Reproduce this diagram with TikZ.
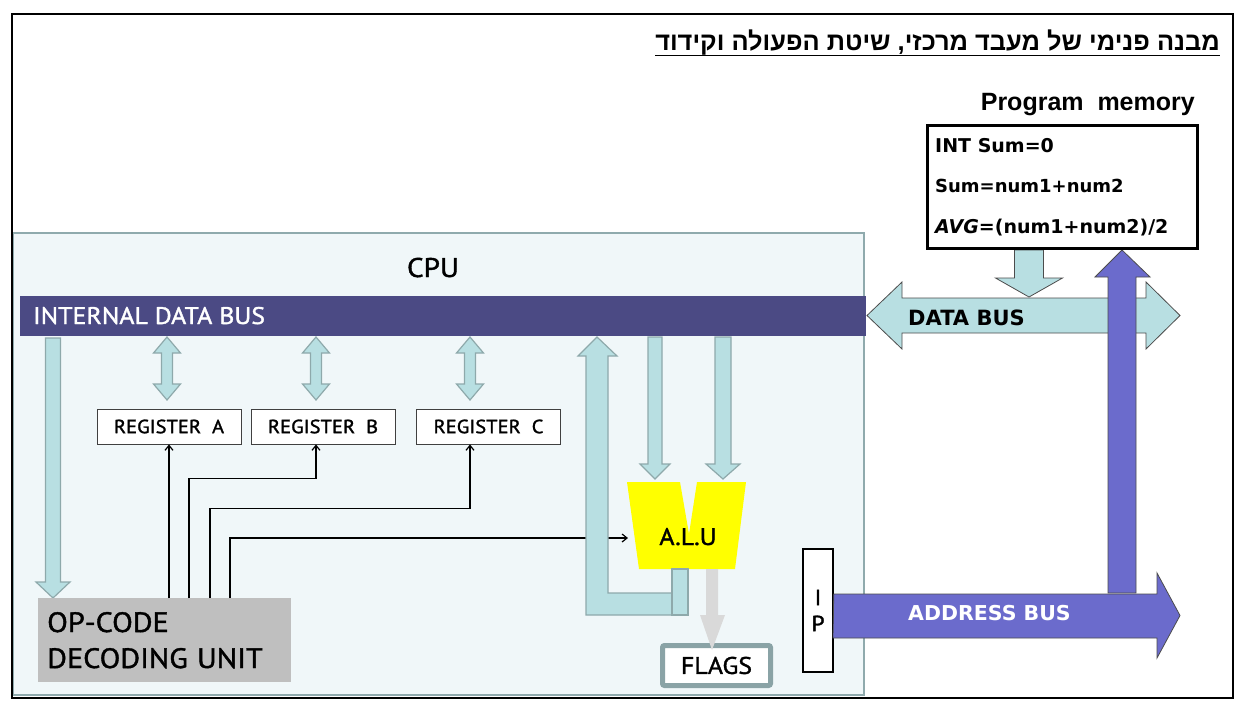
\documentclass[tikz,border=0pt]{standalone}
\usepackage{fontspec}
\usetikzlibrary{arrows.meta}
\TeXXeTstate=1
\newfontfamily\dinfont[FakeStretch=1.08,FakeBold=1.4]{PT Sans}
\newfontfamily\comicfont{DejaVu Sans}
\newfontfamily\arialfont{Liberation Sans}
\newfontfamily\hebfont[Script=Hebrew]{Liberation Sans}
\definecolor{cpufill}{HTML}{F0F7F9}
\definecolor{cpuline}{HTML}{8FAAAD}
\definecolor{tealfill}{HTML}{B8DFE2}
\definecolor{tealline}{HTML}{8EA9AB}
\definecolor{busdark}{HTML}{4B4A84}
\definecolor{purp}{HTML}{6B6BCC}
\definecolor{aluyellow}{HTML}{FFFF00}
\definecolor{opgrey}{HTML}{BFBFBF}
\definecolor{flagline}{HTML}{8AA3A6}
\definecolor{flagarrow}{HTML}{D9D9D9}
% double vertical block arrow: cx, ytop, ybot, shaft half, head half, head length
\newcommand{\dblarrowv}[6]{\path[tealarrow] (#1,#2) -- ({#1+#5},{#2+#6}) -- ({#1+#4},{#2+#6}) -- ({#1+#4},{#3-#6}) -- ({#1+#5},{#3-#6}) -- (#1,#3) -- ({#1-#5},{#3-#6}) -- ({#1-#4},{#3-#6}) -- ({#1-#4},{#2+#6}) -- ({#1-#5},{#2+#6}) -- cycle;}
% single downward block arrow: cx, ytop, ytip, shaft half, head half, head length, style
\newcommand{\sglarrowv}[7]{\path[#7] ({#1-#4},#2) -- ({#1+#4},#2) -- ({#1+#4},{#3-#6}) -- ({#1+#5},{#3-#6}) -- (#1,#3) -- ({#1-#5},{#3-#6}) -- ({#1-#4},{#3-#6}) -- cycle;}
\begin{document}
\begin{tikzpicture}[x=1pt,y=-1pt,
  tealarrow/.style={fill=tealfill,draw=tealline,line width=1.2pt},
  purparrow/.style={fill=purp,draw=black!70,line width=0.8pt},
  ctrl/.style={draw=black,line width=1.4pt,-{Straight Barb[length=5pt,width=8pt,line width=1.2pt]}},
  reg/.style={draw=black!75,fill=white,line width=0.8pt,minimum width=144pt,minimum height=35pt,inner sep=0pt,font=\dinfont\fontsize{19}{22}\selectfont},
  lbl/.style={inner sep=0pt}
]
\useasboundingbox (0,0) rectangle (1244,704);
\fill[white] (0,0) rectangle (1244,704);

% CPU box
\draw[fill=cpufill,draw=cpuline,line width=1.2pt] (13,233) rectangle (864,695);
\node[lbl,font=\dinfont\fontsize{27}{30}\selectfont,anchor=base] (cpu) at (433,277) {CPU};

% internal data bus
\fill[busdark] (20,296) rectangle (866,336);
\node[lbl,text=white,font=\dinfont\fontsize{24}{28}\selectfont,anchor=base west] (ibus) at (33,324) {INTERNAL DATA BUS};

% left down arrow to op-code unit
\sglarrowv{53}{338}{598}{7.5}{17}{16}{tealarrow}

% register arrows
\dblarrowv{167}{337}{400}{5.5}{13.5}{16}
\dblarrowv{316}{337}{400}{5.5}{13.5}{16}
\dblarrowv{470}{337}{400}{5.5}{13.5}{16}

% registers
\node[reg] (regA) at (169,426.5) {REGISTER\ \ A};
\node[reg] (regB) at (323,426.5) {REGISTER\ \ B};
\node[reg] (regC) at (488.5,426.5) {REGISTER\ \ C};

% op-code decoding unit
\node[fill=opgrey,anchor=north west,minimum width=253pt,minimum height=84pt,text width=235pt,align=left,inner xsep=9pt,inner ysep=0pt,font=\dinfont\fontsize{28}{36}\selectfont] (opcode) at (38,598) {OP-CODE\\DECODING UNIT};

% ALU input coordinate
\coordinate (aluin) at (628,538);

% control lines
\draw[ctrl] (opcode.north -| regA.south) -- (regA.south);
\draw[ctrl] ([xshift=151pt]opcode.north west) |- ([xshift=-7pt,yshift=-34pt]regB.south) -- ([xshift=-7pt]regB.south);
\draw[ctrl] ([xshift=172pt]opcode.north west) |- ([xshift=-18.5pt,yshift=-64pt]regC.south) -- ([xshift=-18.5pt]regC.south);
\draw[ctrl] ([xshift=192pt]opcode.north west) |- (aluin);

% ALU inputs
\sglarrowv{655}{337}{479}{7}{15}{15}{tealarrow}
\sglarrowv{723}{337}{479}{8}{17}{15}{tealarrow}

% ALU
\fill[aluyellow] (627,482) -- (680,482) -- (689,534) -- (697,482) -- (746,482) -- (735,569) -- (639,569) -- cycle;
\node[lbl,font=\dinfont\fontsize{24}{28}\selectfont,anchor=base] (alu) at (688,545) {A.L.U};

% ALU output back to bus
\path[tealarrow] (586,615) -- (586,356) -- (578,356) -- (597,337) -- (617,356) -- (608,356) -- (608,593) -- (672,593) -- (672,615) -- cycle;
\path[tealarrow] (672,569) rectangle (688,615);

% flags
\node[draw=flagline,line width=5pt,fill=white,rounded corners=2pt,minimum width=108pt,minimum height=40pt,inner sep=0pt,font=\dinfont\fontsize{24}{28}\selectfont] (flags) at (716.5,665.5) {FLAGS};
\fill[flagarrow] (706,569) -- (718,569) -- (718,615) -- (725,615) -- (712,650) -- (700,615) -- (706,615) -- cycle;

% IP
\node[draw=black,fill=white,line width=1.5pt,minimum width=30pt,minimum height=123pt,inner sep=0pt,align=center,font=\dinfont\fontsize{22}{26}\selectfont] (ip) at (818,610.5) {I\\P};

% data bus
\path[fill=tealfill,draw=black!70,line width=0.8pt] (867,315.5) -- (902,282) -- (902,298) -- (1146,298) -- (1146,282) -- (1180,315.5) -- (1146,349) -- (1146,333) -- (902,333) -- (902,349) -- cycle;
\node[lbl,font=\comicfont\bfseries\fontsize{21}{24}\selectfont,anchor=base west] (dbus) at (908,325) {DATA BUS};
% memory to data bus
\sglarrowv{1029}{250}{297}{14.5}{33.5}{19}{fill=tealfill,draw=black!70,line width=0.8pt}

% address bus
\path[purparrow] (ip.east |- 0,594) -- (1157,594) -- (1157,573) -- (1180,615.5) -- (1157,658) -- (1157,638) -- (833,638) -- cycle;
\node[lbl,text=white,font=\comicfont\bfseries\fontsize{20.5}{24}\selectfont,anchor=base west] (abus) at (908,620) {ADDRESS BUS};
% vertical address arrow to memory
\path[purparrow] (1108,593) -- (1108,277) -- (1095,277) -- (1122,250) -- (1150,277) -- (1136,277) -- (1136,593) -- cycle;

% program memory
\node[draw=black,line width=2.5pt,fill=white,minimum width=270pt,minimum height=123pt,anchor=north west,inner sep=0pt] (pmbox) at (926,124) {};
\node[lbl,font=\comicfont\bfseries\fontsize{19}{22}\selectfont,anchor=base west] (pm1) at (935,152) {INT Sum=0};
\node[lbl,font=\comicfont\bfseries\fontsize{18}{22}\selectfont,anchor=base west] (pm2) at (935,192) {Sum=num1+num2};
\node[lbl,font=\comicfont\bfseries\fontsize{19}{22}\selectfont,anchor=base west] (pm3) at (935,233) {\textit{AVG}=(num1+num2)/2};
\node[lbl,font=\arialfont\bfseries\fontsize{25}{28}\selectfont,anchor=base east] (pmlabel) at (1195,110) {Program\ \ memory};

% title
\node[lbl,font=\hebfont\bfseries\fontsize{25.4}{28}\selectfont,anchor=base east] (title) at (1220,50) {\beginR מבנה פנימי של מעבד מרכזי, שיטת הפעולה וקידוד\endR};
\draw[line width=1.6pt] ([yshift=-5.5pt]title.base west) -- ([yshift=-5.5pt]title.base east);

% outer frame
\draw[line width=2pt] (12,14) rectangle (1233,698);
\end{tikzpicture}
\end{document}
